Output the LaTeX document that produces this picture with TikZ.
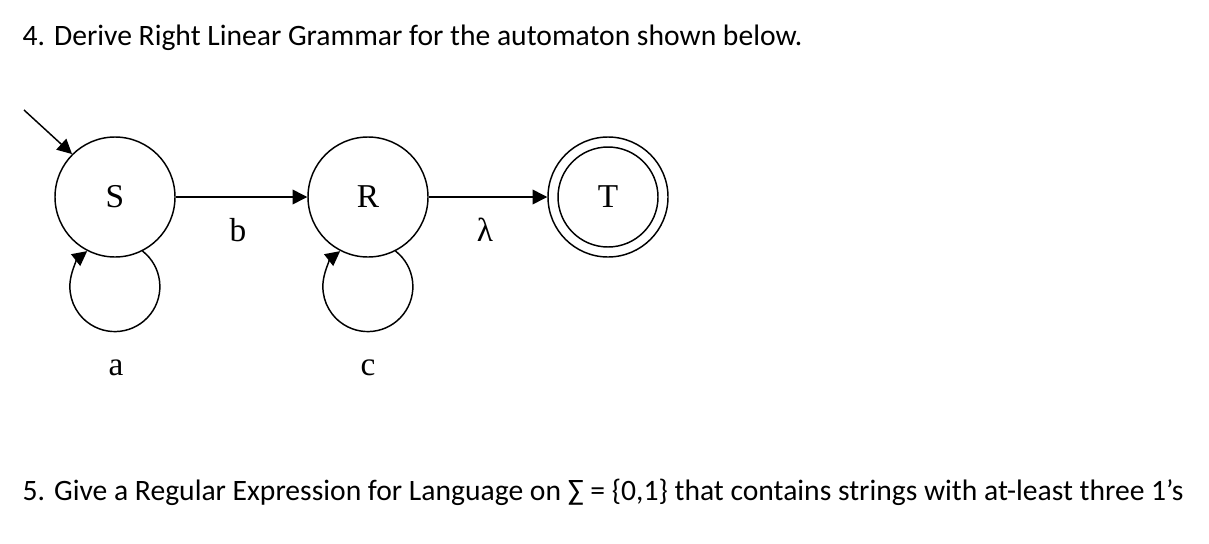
\documentclass[tikz,border=0pt]{standalone}
\usepackage{fontspec}
\setmainfont{Liberation Serif}
\newfontfamily\qfont{Carlito}
\usetikzlibrary{positioning,arrows.meta}

\begin{document}
\begin{tikzpicture}[x=0.75pt,y=0.75pt,line width=1.1pt,
  stnode/.style={draw,circle,minimum size=90pt,inner sep=0pt,font=\fontsize{25}{30}\selectfont},
  edge/.style={-{Triangle[length=11pt,width=11pt]}},
  lbl/.style={font=\fontsize{25}{30}\selectfont},
  qtext/.style={font=\qfont\fontsize{22.2}{26}\selectfont,anchor=base west,inner sep=0pt}]
  \useasboundingbox (0,0) rectangle (1209,-543);
  % questions
  \node[qtext] (q4) at (22,-45) {4. Derive Right Linear Grammar for the automaton shown below.};
  \node[qtext] (q5) at (22,-500) {5. Give a Regular Expression for Language on ∑ = \{0,1\} that contains strings with at-least three 1’s};
  % states
  \foreach \nm/\xx in {S/115,R/368,T/608}
    \node[stnode] (\nm) at (\xx,-197) {\nm};
  \draw (T.center) circle[radius=37.5pt];
  % start arrow
  \coordinate (Sin) at (24,-110);
  \draw[edge] (Sin) -- (S.135);
  % transitions
  \draw[edge] (S) -- (R);
  \draw[edge] (R) -- (T);
  \node[lbl] (lb) at (238,-230) {b};
  \node[lbl] (llam) at (485,-230) {λ};
  % self loops
  \foreach \st/\lab/\xx in {S/a/116,R/c/368} {
    \draw[edge] (\st.-63) arc[start angle=52,end angle=-232,radius=33.75pt];
    \node[lbl] (l\lab) at (\xx,-368) {\lab};
  }
\end{tikzpicture}
\end{document}
